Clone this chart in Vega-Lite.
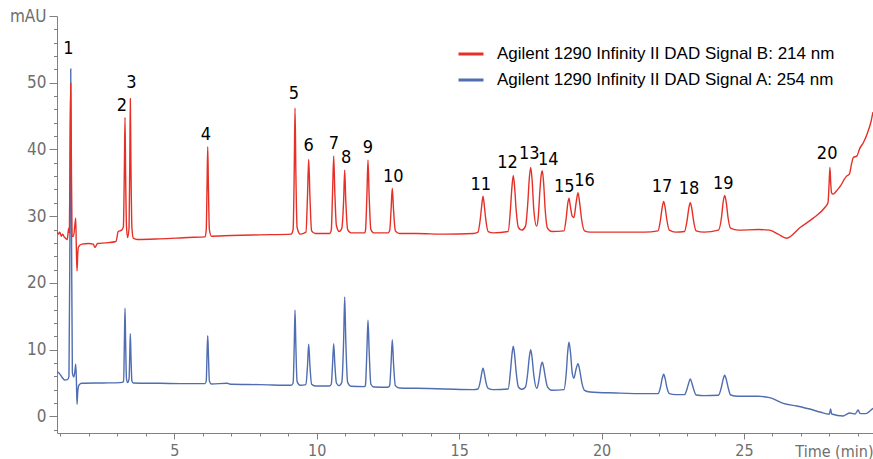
{
  "$schema": "https://vega.github.io/schema/vega-lite/v6.json",
  "width": 816,
  "height": 417,
  "autosize": {"type": "none"},
  "padding": {"left": 57, "top": 16, "right": 0, "bottom": 26},
  "background": "white",
  "config": {"view": {"stroke": null}},
  "datasets": {
    "tr": [
      {"s":"A","t":0.88,"v":6.7},{"s":"A","t":0.95,"v":6.5},{"s":"A","t":1.05,"v":5.9},{"s":"A","t":1.15,"v":5.45},{"s":"A","t":1.25,"v":5.5},{"s":"A","t":1.30,"v":6.0},{"s":"A","t":1.335,"v":28},{"s":"A","t":1.362,"v":52.05},{"s":"A","t":1.39,"v":28},{"s":"A","t":1.42,"v":6.5},{"s":"A","t":1.47,"v":5.9},{"s":"A","t":1.51,"v":6.8},{"s":"A","t":1.538,"v":7.8},{"s":"A","t":1.56,"v":5.5},{"s":"A","t":1.583,"v":1.8},{"s":"A","t":1.61,"v":3.8},{"s":"A","t":1.654,"v":4.7},{"s":"A","t":1.75,"v":4.95},{"s":"A","t":2.5,"v":5.0},{"s":"A","t":3.1,"v":5.05},
      {"s":"A","t":3.22,"v":5.2},{"s":"A","t":3.245,"v":11},{"s":"A","t":3.268,"v":16.2},{"s":"A","t":3.29,"v":11},{"s":"A","t":3.32,"v":5.6},{"s":"A","t":3.36,"v":5.05},{"s":"A","t":3.41,"v":5.6},{"s":"A","t":3.435,"v":9.3},{"s":"A","t":3.454,"v":12.4},{"s":"A","t":3.475,"v":9.3},{"s":"A","t":3.51,"v":5.3},{"s":"A","t":3.56,"v":5.0},{"s":"A","t":4.5,"v":4.95},{"s":"A","t":5.5,"v":4.9},{"s":"A","t":6.08,"v":4.9},
      {"s":"A","t":6.12,"v":5.3},{"s":"A","t":6.148,"v":9.3},{"s":"A","t":6.172,"v":12.1},{"s":"A","t":6.196,"v":9.3},{"s":"A","t":6.23,"v":5.3},{"s":"A","t":6.3,"v":4.85},{"s":"A","t":6.85,"v":4.95},{"s":"A","t":7.0,"v":4.8},{"s":"A","t":8.0,"v":4.75},{"s":"A","t":9.1,"v":4.65},
      {"s":"A","t":9.17,"v":5.0},{"s":"A","t":9.21,"v":10.8},{"s":"A","t":9.237,"v":15.9},{"s":"A","t":9.265,"v":10.8},{"s":"A","t":9.31,"v":5.2},{"s":"A","t":9.42,"v":4.65},{"s":"A","t":9.62,"v":4.75},{"s":"A","t":9.675,"v":7.6},{"s":"A","t":9.717,"v":10.8},{"s":"A","t":9.76,"v":7.6},{"s":"A","t":9.82,"v":4.8},{"s":"A","t":9.95,"v":4.55},{"s":"A","t":10.45,"v":4.55},
      {"s":"A","t":10.51,"v":4.8},{"s":"A","t":10.555,"v":7.8},{"s":"A","t":10.595,"v":10.9},{"s":"A","t":10.635,"v":7.8},{"s":"A","t":10.69,"v":5.0},{"s":"A","t":10.79,"v":4.6},{"s":"A","t":10.88,"v":5.1},{"s":"A","t":10.945,"v":11.6},{"s":"A","t":10.981,"v":17.9},{"s":"A","t":11.018,"v":11.6},{"s":"A","t":11.085,"v":5.1},{"s":"A","t":11.2,"v":4.5},{"s":"A","t":11.68,"v":4.45},
      {"s":"A","t":11.71,"v":4.7},{"s":"A","t":11.76,"v":9.8},{"s":"A","t":11.799,"v":14.4},{"s":"A","t":11.84,"v":9.8},{"s":"A","t":11.9,"v":4.8},{"s":"A","t":12.0,"v":4.4},{"s":"A","t":12.5,"v":4.35},{"s":"A","t":12.56,"v":4.6},{"s":"A","t":12.61,"v":8.0},{"s":"A","t":12.652,"v":11.5},{"s":"A","t":12.695,"v":8.0},{"s":"A","t":12.76,"v":4.6},{"s":"A","t":12.9,"v":4.25},
      {"s":"A","t":13.5,"v":4.2},{"s":"A","t":14.5,"v":4.1},{"s":"A","t":15.5,"v":4.0},{"s":"A","t":15.66,"v":4.1},{"s":"A","t":15.74,"v":5.2},{"s":"A","t":15.785,"v":6.3},{"s":"A","t":15.837,"v":7.2},{"s":"A","t":15.89,"v":6.3},{"s":"A","t":15.935,"v":5.2},{"s":"A","t":16.02,"v":4.2},{"s":"A","t":16.2,"v":4.0},
      {"s":"A","t":16.72,"v":4.1},{"s":"A","t":16.80,"v":6.7},{"s":"A","t":16.85,"v":9.1},{"s":"A","t":16.90,"v":10.5},{"s":"A","t":16.95,"v":9.1},{"s":"A","t":17.00,"v":6.7},{"s":"A","t":17.08,"v":4.4},{"s":"A","t":17.2,"v":4.05},
      {"s":"A","t":17.33,"v":4.4},{"s":"A","t":17.41,"v":6.6},{"s":"A","t":17.46,"v":8.8},{"s":"A","t":17.511,"v":10.0},{"s":"A","t":17.56,"v":8.8},{"s":"A","t":17.62,"v":6.2},{"s":"A","t":17.72,"v":4.2},{"s":"A","t":17.78,"v":4.9},{"s":"A","t":17.83,"v":6.3},{"s":"A","t":17.87,"v":7.5},{"s":"A","t":17.918,"v":8.1},{"s":"A","t":17.965,"v":7.4},{"s":"A","t":18.02,"v":6.0},{"s":"A","t":18.10,"v":4.4},{"s":"A","t":18.25,"v":3.9},
      {"s":"A","t":18.68,"v":4.0},{"s":"A","t":18.76,"v":6.5},{"s":"A","t":18.81,"v":9.6},{"s":"A","t":18.856,"v":11.1},{"s":"A","t":18.91,"v":9.5},{"s":"A","t":18.97,"v":6.5},{"s":"A","t":19.03,"v":5.7},{"s":"A","t":19.10,"v":7.0},{"s":"A","t":19.172,"v":7.9},{"s":"A","t":19.23,"v":7.0},{"s":"A","t":19.30,"v":5.2},{"s":"A","t":19.40,"v":3.9},{"s":"A","t":19.6,"v":3.65},
      {"s":"A","t":20.5,"v":3.5},{"s":"A","t":21.5,"v":3.4},{"s":"A","t":21.98,"v":3.4},{"s":"A","t":22.07,"v":4.4},{"s":"A","t":22.125,"v":5.6},{"s":"A","t":22.18,"v":6.3},{"s":"A","t":22.235,"v":5.6},{"s":"A","t":22.29,"v":4.4},{"s":"A","t":22.38,"v":3.4},{"s":"A","t":22.6,"v":3.25},
      {"s":"A","t":22.91,"v":3.25},{"s":"A","t":23.00,"v":4.1},{"s":"A","t":23.06,"v":5.0},{"s":"A","t":23.114,"v":5.6},{"s":"A","t":23.17,"v":5.0},{"s":"A","t":23.23,"v":4.1},{"s":"A","t":23.32,"v":3.2},{"s":"A","t":23.6,"v":3.1},
      {"s":"A","t":24.1,"v":3.15},{"s":"A","t":24.21,"v":4.4},{"s":"A","t":24.265,"v":5.5},{"s":"A","t":24.322,"v":6.15},{"s":"A","t":24.38,"v":5.5},{"s":"A","t":24.44,"v":4.4},{"s":"A","t":24.53,"v":3.2},{"s":"A","t":24.8,"v":3.0},{"s":"A","t":25.5,"v":3.0},{"s":"A","t":25.9,"v":2.8},
      {"s":"A","t":26.38,"v":1.95},{"s":"A","t":26.85,"v":1.54},{"s":"A","t":27.43,"v":0.94},{"s":"A","t":27.67,"v":0.64},{"s":"A","t":28.0,"v":0.3},{"s":"A","t":28.04,"v":1.1},{"s":"A","t":28.08,"v":0.35},{"s":"A","t":28.49,"v":0.05},{"s":"A","t":28.6,"v":0.3},{"s":"A","t":28.7,"v":0.5},{"s":"A","t":28.78,"v":0.45},{"s":"A","t":28.9,"v":0.35},{"s":"A","t":29.01,"v":0.95},{"s":"A","t":29.07,"v":0.45},{"s":"A","t":29.2,"v":0.4},{"s":"A","t":29.31,"v":0.45},{"s":"A","t":29.45,"v":0.9},{"s":"A","t":29.53,"v":1.2},

      {"s":"B","t":0.88,"v":27.8},{"s":"B","t":0.93,"v":27.3},{"s":"B","t":0.98,"v":27.6},{"s":"B","t":1.03,"v":27.0},{"s":"B","t":1.08,"v":27.3},{"s":"B","t":1.13,"v":26.9},{"s":"B","t":1.18,"v":26.7},{"s":"B","t":1.24,"v":26.5},{"s":"B","t":1.29,"v":28.2},{"s":"B","t":1.315,"v":27.5},{"s":"B","t":1.335,"v":38},{"s":"B","t":1.362,"v":49.9},{"s":"B","t":1.39,"v":35},{"s":"B","t":1.41,"v":27.0},{"s":"B","t":1.46,"v":27.0},{"s":"B","t":1.51,"v":28.8},{"s":"B","t":1.538,"v":29.7},{"s":"B","t":1.56,"v":25},{"s":"B","t":1.583,"v":21.8},{"s":"B","t":1.61,"v":24.5},{"s":"B","t":1.636,"v":25.4},{"s":"B","t":1.75,"v":25.8},{"s":"B","t":2.0,"v":25.9},{"s":"B","t":2.15,"v":25.8},{"s":"B","t":2.215,"v":25.3},{"s":"B","t":2.3,"v":25.9},{"s":"B","t":2.6,"v":26.0},{"s":"B","t":2.95,"v":26.2},{"s":"B","t":3.03,"v":27.7},{"s":"B","t":3.15,"v":27.9},
      {"s":"B","t":3.21,"v":28.4},{"s":"B","t":3.245,"v":37},{"s":"B","t":3.268,"v":44.8},{"s":"B","t":3.29,"v":36},{"s":"B","t":3.32,"v":28.5},{"s":"B","t":3.36,"v":26.8},{"s":"B","t":3.41,"v":28.3},{"s":"B","t":3.435,"v":38},{"s":"B","t":3.454,"v":47.6},{"s":"B","t":3.475,"v":38},{"s":"B","t":3.51,"v":28.3},{"s":"B","t":3.56,"v":26.7},{"s":"B","t":3.7,"v":26.5},{"s":"B","t":4.5,"v":26.6},{"s":"B","t":5.5,"v":26.8},{"s":"B","t":6.08,"v":26.9},
      {"s":"B","t":6.12,"v":28},{"s":"B","t":6.148,"v":34.5},{"s":"B","t":6.172,"v":40.4},{"s":"B","t":6.196,"v":34.5},{"s":"B","t":6.23,"v":28},{"s":"B","t":6.3,"v":27.0},{"s":"B","t":7.0,"v":27.1},{"s":"B","t":8.0,"v":27.2},{"s":"B","t":9.1,"v":27.3},
      {"s":"B","t":9.17,"v":28.0},{"s":"B","t":9.21,"v":37},{"s":"B","t":9.237,"v":46.2},{"s":"B","t":9.265,"v":37},{"s":"B","t":9.31,"v":28.3},{"s":"B","t":9.42,"v":27.3},{"s":"B","t":9.62,"v":27.6},{"s":"B","t":9.675,"v":33},{"s":"B","t":9.717,"v":38.5},{"s":"B","t":9.76,"v":33},{"s":"B","t":9.82,"v":27.8},{"s":"B","t":9.95,"v":27.4},{"s":"B","t":10.45,"v":27.4},
      {"s":"B","t":10.51,"v":27.9},{"s":"B","t":10.555,"v":33.5},{"s":"B","t":10.595,"v":39.0},{"s":"B","t":10.635,"v":33.5},{"s":"B","t":10.69,"v":28.6},{"s":"B","t":10.79,"v":27.7},{"s":"B","t":10.88,"v":28.2},{"s":"B","t":10.945,"v":32.5},{"s":"B","t":10.981,"v":36.9},{"s":"B","t":11.018,"v":32.5},{"s":"B","t":11.085,"v":28},{"s":"B","t":11.2,"v":27.5},{"s":"B","t":11.68,"v":27.5},
      {"s":"B","t":11.71,"v":27.8},{"s":"B","t":11.76,"v":33},{"s":"B","t":11.799,"v":38.4},{"s":"B","t":11.84,"v":33},{"s":"B","t":11.9,"v":28},{"s":"B","t":12.0,"v":27.5},{"s":"B","t":12.5,"v":27.5},{"s":"B","t":12.56,"v":27.8},{"s":"B","t":12.61,"v":31},{"s":"B","t":12.652,"v":34.2},{"s":"B","t":12.695,"v":31},{"s":"B","t":12.76,"v":27.8},{"s":"B","t":12.9,"v":27.4},
      {"s":"B","t":13.5,"v":27.4},{"s":"B","t":14.5,"v":27.3},{"s":"B","t":15.5,"v":27.4},{"s":"B","t":15.66,"v":27.6},{"s":"B","t":15.74,"v":29.5},{"s":"B","t":15.785,"v":31.3},{"s":"B","t":15.837,"v":33.0},{"s":"B","t":15.89,"v":31.3},{"s":"B","t":15.935,"v":29.5},{"s":"B","t":16.02,"v":27.7},{"s":"B","t":16.2,"v":27.5},
      {"s":"B","t":16.72,"v":27.7},{"s":"B","t":16.80,"v":31},{"s":"B","t":16.85,"v":34.2},{"s":"B","t":16.90,"v":36.1},{"s":"B","t":16.95,"v":34.2},{"s":"B","t":17.00,"v":31},{"s":"B","t":17.08,"v":28.3},{"s":"B","t":17.2,"v":27.9},
      {"s":"B","t":17.33,"v":28.5},{"s":"B","t":17.41,"v":32},{"s":"B","t":17.46,"v":35.5},{"s":"B","t":17.511,"v":37.3},{"s":"B","t":17.56,"v":35.5},{"s":"B","t":17.62,"v":31},{"s":"B","t":17.72,"v":28.5},{"s":"B","t":17.78,"v":30},{"s":"B","t":17.83,"v":33.5},{"s":"B","t":17.87,"v":35.8},{"s":"B","t":17.918,"v":36.8},{"s":"B","t":17.965,"v":35},{"s":"B","t":18.02,"v":31},{"s":"B","t":18.10,"v":28.2},{"s":"B","t":18.25,"v":27.7},
      {"s":"B","t":18.68,"v":27.8},{"s":"B","t":18.76,"v":29.8},{"s":"B","t":18.81,"v":31.8},{"s":"B","t":18.856,"v":32.7},{"s":"B","t":18.91,"v":31.3},{"s":"B","t":18.97,"v":30.0},{"s":"B","t":19.03,"v":29.8},{"s":"B","t":19.10,"v":31.8},{"s":"B","t":19.172,"v":33.5},{"s":"B","t":19.23,"v":32},{"s":"B","t":19.30,"v":29.5},{"s":"B","t":19.40,"v":27.8},{"s":"B","t":19.6,"v":27.6},
      {"s":"B","t":20.5,"v":27.6},{"s":"B","t":21.5,"v":27.6},{"s":"B","t":21.98,"v":27.8},{"s":"B","t":22.07,"v":29.5},{"s":"B","t":22.125,"v":31.2},{"s":"B","t":22.18,"v":32.2},{"s":"B","t":22.235,"v":31.2},{"s":"B","t":22.29,"v":29.5},{"s":"B","t":22.38,"v":27.9},{"s":"B","t":22.6,"v":27.6},
      {"s":"B","t":22.91,"v":27.7},{"s":"B","t":23.00,"v":29.3},{"s":"B","t":23.06,"v":31.1},{"s":"B","t":23.114,"v":32.0},{"s":"B","t":23.17,"v":31.1},{"s":"B","t":23.23,"v":29.3},{"s":"B","t":23.32,"v":27.8},{"s":"B","t":23.6,"v":27.6},
      {"s":"B","t":24.1,"v":27.9},{"s":"B","t":24.21,"v":29.8},{"s":"B","t":24.265,"v":32},{"s":"B","t":24.322,"v":33.1},{"s":"B","t":24.38,"v":32},{"s":"B","t":24.44,"v":29.8},{"s":"B","t":24.53,"v":28.2},{"s":"B","t":24.8,"v":27.9},{"s":"B","t":25.5,"v":28.0},{"s":"B","t":25.9,"v":27.9},
      {"s":"B","t":26.2,"v":27.3},{"s":"B","t":26.5,"v":26.7},{"s":"B","t":26.97,"v":28.3},{"s":"B","t":27.43,"v":29.7},{"s":"B","t":27.84,"v":31.3},{"s":"B","t":27.95,"v":32},{"s":"B","t":27.99,"v":35},{"s":"B","t":28.017,"v":37.3},{"s":"B","t":28.045,"v":35},{"s":"B","t":28.075,"v":33.5},{"s":"B","t":28.13,"v":33.3},{"s":"B","t":28.25,"v":33.8},{"s":"B","t":28.4,"v":34.6},{"s":"B","t":28.49,"v":35.3},{"s":"B","t":28.6,"v":36.0},{"s":"B","t":28.7,"v":36.3},{"s":"B","t":28.78,"v":37.9},{"s":"B","t":28.84,"v":38.8},{"s":"B","t":28.96,"v":39.0},{"s":"B","t":29.07,"v":40.2},{"s":"B","t":29.19,"v":41.0},{"s":"B","t":29.33,"v":42.4},{"s":"B","t":29.45,"v":44.0},{"s":"B","t":29.53,"v":45.6}
    ],
    "pk": [
      {"t":1.28,"v":55.0,"n":"1"},{"t":3.16,"v":46.5,"n":"2"},{"t":3.49,"v":50.0,"n":"3"},{"t":6.11,"v":42.2,"n":"4"},{"t":9.20,"v":48.3,"n":"5"},
      {"t":9.72,"v":40.5,"n":"6"},{"t":10.60,"v":40.8,"n":"7"},{"t":11.03,"v":38.7,"n":"8"},{"t":11.80,"v":40.2,"n":"9"},{"t":12.69,"v":35.9,"n":"10"},
      {"t":15.76,"v":34.7,"n":"11"},{"t":16.70,"v":37.9,"n":"12"},{"t":17.46,"v":39.3,"n":"13"},{"t":18.13,"v":38.4,"n":"14"},{"t":18.69,"v":34.3,"n":"15"},
      {"t":19.40,"v":35.3,"n":"16"},{"t":22.12,"v":34.4,"n":"17"},{"t":23.07,"v":34.1,"n":"18"},{"t":24.27,"v":34.8,"n":"19"},{"t":27.92,"v":39.3,"n":"20"}
    ]
  },
  "encoding": {
    "x": {
      "field": "t", "type": "quantitative",
      "scale": {"domain": [0.88, 29.53], "nice": false, "zero": false},
      "axis": {
        "values": [1,2,3,4,5,6,7,8,9,10,11,12,13,14,15,16,17,18,19,20,21,22,23,24,25,26,27,28,29],
        "labelExpr": "datum.value % 5 == 0 ? datum.label : ''",
        "tickSize": {"condition": {"test": "datum.value % 5 == 0", "value": 6}, "value": 3},
        "labelPadding": 3,
        "labelFlush": false,
        "labelOverlap": false,
        "labelFont": "DejaVu Sans Condensed, Roboto",
        "labelFontSize": 16,
        "labelColor": "#6e6e6e",
        "domainColor": "#808080",
        "tickColor": "#808080",
        "grid": false,
        "title": "Time (min)",
        "titleFont": "DejaVu Sans Condensed, Roboto",
        "titleFontSize": 16,
        "titleFontWeight": "normal",
        "titleColor": "#6e6e6e",
        "titleAnchor": "end",
        "titleAlign": "right",
        "titleBaseline": "alphabetic",
        "titleX": 816,
        "titleY": 23
      }
    },
    "y": {
      "field": "v", "type": "quantitative",
      "scale": {"domain": [-2.5, 60], "nice": false, "zero": false},
      "axis": {
        "values": [-2,0,2,4,6,8,10,12,14,16,18,20,22,24,26,28,30,32,34,36,38,40,42,44,46,48,50,52,54,56,58,60],
        "labelExpr": "datum.value == 60 ? 'mAU' : (datum.value % 10 == 0 ? datum.label : '')",
        "tickSize": {"condition": {"test": "datum.value % 10 == 0", "value": 8}, "value": 3.5},
        "labelPadding": 3,
        "labelOverlap": false,
        "labelFont": "DejaVu Sans Condensed, Roboto",
        "labelFontSize": 17,
        "labelColor": "#6e6e6e",
        "domainColor": "#808080",
        "tickColor": "#808080",
        "grid": false,
        "title": null
      }
    }
  },
  "layer": [
    {
      "data": {"name": "tr"},
      "transform": [{"filter": "datum.s == 'A'"}],
      "mark": {"type": "line", "interpolate": "monotone", "strokeWidth": 1.4, "clip": true},
      "encoding": {
        "color": {
          "field": "s", "type": "nominal",
          "scale": {"domain": ["B", "A"], "range": ["#e63027", "#4f6db0"]},
          "legend": {
            "orient": "none", "legendX": 400, "legendY": 24, "title": null, "padding": 0,
            "symbolType": "stroke", "symbolSize": 625, "symbolStrokeWidth": 3,
            "labelFont": "Liberation Sans", "labelFontSize": 17, "labelColor": "black", "labelOffset": 12,
            "labelLimit": 0,
            "rowPadding": 4,
            "labelExpr": "datum.label == 'B' ? 'Agilent 1290 Infinity II DAD Signal B: 214 nm' : 'Agilent 1290 Infinity II DAD Signal A: 254 nm'"
          }
        }
      }
    },
    {
      "data": {"name": "tr"},
      "transform": [{"filter": "datum.s == 'B'"}],
      "mark": {"type": "line", "interpolate": "monotone", "strokeWidth": 1.4, "clip": true},
      "encoding": {
        "color": {"field": "s", "type": "nominal"}
      }
    },
    {
      "data": {"name": "pk"},
      "mark": {"type": "text", "font": "DejaVu Sans Condensed, Roboto", "fontSize": 18, "color": "black", "align": "center", "baseline": "middle"},
      "encoding": {"text": {"field": "n"}}
    }
  ]
}
